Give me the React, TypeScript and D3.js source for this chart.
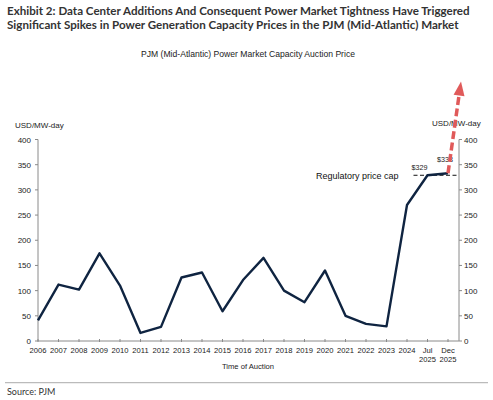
import * as d3 from "d3";
import { useLayoutEffect, useRef, useState } from "react";

const categories = [
  "2006", "2007", "2008", "2009", "2010", "2011", "2012", "2013", "2014", "2015",
  "2016", "2017", "2018", "2019", "2020", "2021", "2022", "2023", "2024",
  "Jul 2025", "Dec 2025",
];
const prices = [
  41, 112, 102, 174, 110, 16, 28, 126, 136, 59,
  121, 165, 100, 77, 140, 50, 34, 29, 270,
  329, 333,
];
const yTicks = [0, 50, 100, 150, 200, 250, 300, 350, 400];
const priceCap = 329;
const arrowTarget = 515;

const W = 493;
const H = 400;
const axisFont = "'Liberation Sans', Arial, sans-serif";
const titleFont = "Lato, 'Open Sans', sans-serif";

export default function App() {
  const titleRef = useRef<SVGTextElement>(null);
  const [titleSize, setTitleSize] = useState(12.3);

  // fit the first title line to the reference width without distorting glyphs
  useLayoutEffect(() => {
    if (!titleRef.current) return;
    const len = titleRef.current.getComputedTextLength();
    if (len > 0) {
      const next = Math.min(13, (12.3 * 463) / len);
      if (Math.abs(next - titleSize) > 0.05 && titleSize === 12.3) setTitleSize(next);
    }
  }, [titleSize]);

  const x = d3.scalePoint<string>().domain(categories).range([38, 448]);
  const y = d3.scaleLinear().domain([0, 400]).range([341, 139.5]);
  const left = 38;
  const right = 459;

  const line = d3
    .line<number>()
    .x((_, i) => x(categories[i]) as number)
    .y((d) => y(d));

  const lastX = x(categories[categories.length - 1]) as number;
  const lastY = y(prices[prices.length - 1]);
  const tipX = right + 2;
  const tipY = y(arrowTarget);
  // arrow head geometry
  const ang = Math.atan2(tipY - lastY, tipX - lastX);
  const headLen = 14;
  const headW = 5.5;
  const bx = tipX - headLen * Math.cos(ang);
  const by = tipY - headLen * Math.sin(ang);
  const px = -Math.sin(ang) * headW;
  const py = Math.cos(ang) * headW;

  return (
    <div style={{ position: "fixed", top: 0, left: 0, background: "#fff" }}>
      <svg width={W} height={H} style={{ display: "block" }}>
        <rect width={W} height={H} fill="#fff" />
        <text ref={titleRef} x={7} y={15} fontFamily={titleFont} fontWeight="bold"
          fontSize={titleSize} fill="#333">
          Exhibit 2: Data Center Additions And Consequent Power Market Tightness Have Triggered
        </text>
        <text x={7} y={29} fontFamily={titleFont} fontWeight="bold" fontSize={titleSize}
          fill="#333">
          Significant Spikes in Power Generation Capacity Prices in the PJM (Mid-Atlantic) Market
        </text>
        <text x={248} y={57} textAnchor="middle" fontFamily={axisFont} fontSize={8.6} fill="#222">
          PJM (Mid-Atlantic) Power Market Capacity Auction Price
        </text>

        {/* axes */}
        <g stroke="#8a8a8a" strokeWidth={1} fill="none">
          <line x1={left} x2={left} y1={y(400)} y2={y(0)} />
          <line x1={right} x2={right} y1={y(400)} y2={y(0)} />
          <line x1={left} x2={right} y1={y(0)} y2={y(0)} />
          {yTicks.map((t) => (
            <g key={t}>
              <line x1={left - 3} x2={left} y1={y(t)} y2={y(t)} />
              <line x1={right} x2={right + 3} y1={y(t)} y2={y(t)} />
            </g>
          ))}
          {categories.map((c) => (
            <line key={c} x1={x(c)} x2={x(c)} y1={y(0) - 2} y2={y(0) + 1} />
          ))}
        </g>
        <g fontFamily={axisFont} fontSize={8} fill="#222">
          {yTicks.map((t) => (
            <g key={t}>
              <text x={left - 7} y={y(t) + 3} textAnchor="end">{t}</text>
              <text x={right + 5} y={y(t) + 3}>{t}</text>
            </g>
          ))}
          <text x={15} y={128}>USD/MW-day</text>
          <text x={432} y={126}>USD/MW-day</text>
        </g>
        <g fontFamily={axisFont} fontSize={7.6} fill="#222" textAnchor="middle">
          {categories.map((c) => {
            const parts = c.split(" ");
            return (
              <text key={c} x={x(c)} y={353}>
                {parts.map((p, i) => (
                  <tspan key={i} x={x(c)} dy={i === 0 ? 0 : 9}>{p}</tspan>
                ))}
              </text>
            );
          })}
          <text x={248} y={368.5}>Time of Auction</text>
        </g>

        {/* price cap */}
        <line x1={(x("Jul 2025") as number) - 14} x2={lastX + 9} y1={y(priceCap)} y2={y(priceCap)}
          stroke="#111" strokeWidth={1} strokeDasharray="4,2.5" />
        <text x={316} y={178.5} fontFamily={axisFont} fontSize={9} fill="#111">
          Regulatory price cap
        </text>

        {/* series */}
        <path d={line(prices) ?? ""} fill="none" stroke="#0f2441" strokeWidth={2.4}
          strokeLinejoin="round" />

        <text x={(x("Jul 2025") as number) - 8} y={y(prices[19]) - 5} textAnchor="middle"
          fontFamily={axisFont} fontSize={7.2} fill="#222">$329</text>
        <text x={lastX - 3} y={y(prices[20]) - 11} textAnchor="middle"
          fontFamily={axisFont} fontSize={7.2} fill="#222">$333</text>

        {/* arrow */}
        <line x1={lastX} y1={lastY} x2={bx} y2={by} stroke="#e05a5a" strokeWidth={3.5}
          strokeDasharray="8,3.5" />
        <polygon points={`${tipX},${tipY} ${bx + px},${by + py} ${bx - px},${by - py}`}
          fill="#e05a5a" />

        {/* footer */}
        <line x1={5} x2={488} y1={382.7} y2={382.7} stroke="#bbb" strokeWidth={1.3} />
        <text x={7} y={395} fontFamily={titleFont} fontSize={9} fill="#333">Source: PJM</text>
      </svg>
    </div>
  );
}
